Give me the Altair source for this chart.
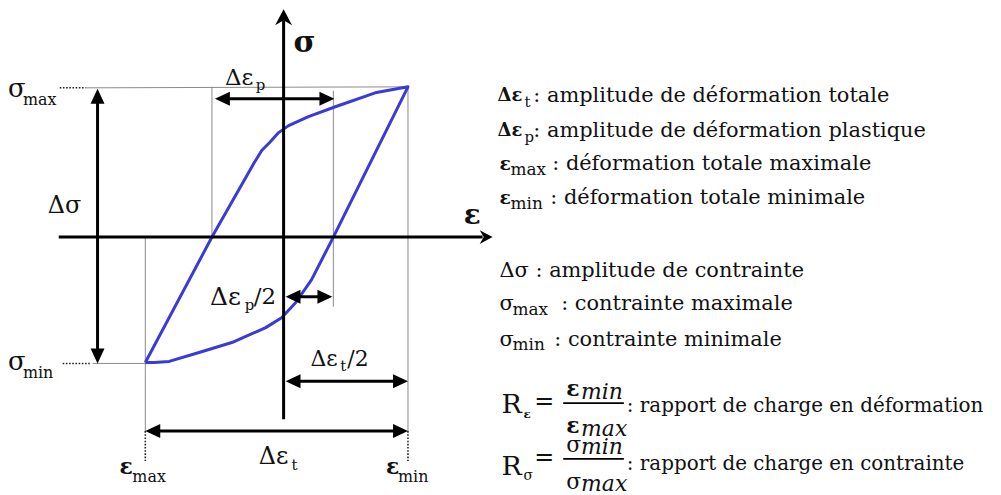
import altair as alt
import pandas as pd

# ---------------- data (strain ε / stress σ, arbitrary units, origin at the axes crossing)
loading_eps = [-139, -72, -30, -22, -14, -5, 5, 25, 52, 92, 125]
loading_sig = [-126, 0, 74, 87, 95, 105, 112, 121, 131, 145, 151]
unloading_eps = [125, 50, 28, 12, -2, -18, -52, -85, -115, -130, -139]
unloading_sig = [151, 0, -43, -66, -81, -91, -106, -116, -125, -126, -126]

EPS_MAX_POS = -139   # ε_max (left end of the loop)
EPS_MIN_POS = 125    # ε_min (right end of the loop)
SIG_MAX = 151
SIG_MIN = -127
DEP_LEFT = -72
DEP_RIGHT = 50

FONT = "DejaVu Serif"
BLUE = "#3a3ad6"
GREY = "#8a8a8a"

W, H = 990, 486
XS = alt.Scale(domain=[-277, -277 + W], nice=False, zero=False)
YS = alt.Scale(domain=[229 - H, 229], nice=False, zero=False)


def rule_layer(rows, color, width, dash=None):
    df = pd.DataFrame(rows, columns=["x", "y", "x2", "y2"])
    kw = dict(color=color, strokeWidth=width)
    if dash:
        kw["strokeDash"] = dash
    return alt.Chart(df).mark_rule(**kw).encode(
        x=alt.X("x:Q", scale=XS, axis=None),
        y=alt.Y("y:Q", scale=YS, axis=None),
        x2="x2:Q",
        y2="y2:Q",
    )


# ---------------- loop
loop_rows = []
i = 0
for e, s in zip(loading_eps, loading_sig):
    loop_rows.append({"eps": e, "sig": s, "o": i}); i += 1
for e, s in zip(unloading_eps[1:], unloading_sig[1:]):
    loop_rows.append({"eps": e, "sig": s, "o": i}); i += 1
loop = alt.Chart(pd.DataFrame(loop_rows)).mark_line(
    color=BLUE, strokeWidth=3, strokeJoin="round"
).encode(
    x=alt.X("eps:Q", scale=XS, axis=None),
    y=alt.Y("sig:Q", scale=YS, axis=None),
    order="o:Q",
)

# ---------------- thin construction lines
guides = rule_layer([
    (-199, SIG_MAX - 1, EPS_MIN_POS, SIG_MAX),
    (-192, SIG_MIN, EPS_MAX_POS, SIG_MIN),
    (EPS_MAX_POS, 0, EPS_MAX_POS, -195),
    (DEP_LEFT, SIG_MAX, DEP_LEFT, 0),
    (DEP_RIGHT, 147, DEP_RIGHT, -70),
    (EPS_MIN_POS, SIG_MAX, EPS_MIN_POS, -195),
], GREY, 1)

dots = rule_layer([
    (-225, SIG_MAX - 1, -199, SIG_MAX - 1),
    (-222, SIG_MIN, -194, SIG_MIN),
    (EPS_MAX_POS, -195, EPS_MAX_POS, -225),
    (EPS_MIN_POS, -195, EPS_MIN_POS, -225),
], "#222222", 1.6, [1.6, 1.6])

# ---------------- axes
axes_lines = rule_layer([
    (-226, 0, 200, 0),
    (0, -183, 0, 218),
], "black", 3)

AXIS_HEAD = "M0,0L0.85,1.6L0,1.1L-0.85,1.6Z"
axis_heads = alt.Chart(pd.DataFrame([
    {"x": 210, "y": 0, "a": 90, "s": 260},
    {"x": 0, "y": 229, "a": 0, "s": 400},
])).mark_point(shape=AXIS_HEAD, filled=True, color="black", opacity=1).encode(
    x=alt.X("x:Q", scale=XS, axis=None),
    y=alt.Y("y:Q", scale=YS, axis=None),
    angle=alt.Angle("a:Q", scale=None),
    size=alt.Size("s:Q", scale=None),
)

# ---------------- dimension arrows (double headed)
dims = [
    (-187, 149, -187, SIG_MIN),        # Δσ
    (-69, 139, 51, 139),               # Δεp
    (2, -60, 49, -60),                 # Δεp/2
    (2, -145, EPS_MIN_POS, -145),      # Δεt/2
    (EPS_MAX_POS, -195, EPS_MIN_POS, -195),  # Δεt
]
SHORT = 8
dim_lines = []
heads = []
for x1, y1, x2, y2 in dims:
    if x1 == x2:  # vertical
        top, bot = max(y1, y2), min(y1, y2)
        dim_lines.append((x1, top - SHORT, x1, bot + SHORT))
        heads.append({"x": x1, "y": top, "a": 0})
        heads.append({"x": x1, "y": bot, "a": 180})
    else:
        lft, rgt = min(x1, x2), max(x1, x2)
        dim_lines.append((lft + SHORT, y1, rgt - SHORT, y1))
        heads.append({"x": lft, "y": y1, "a": 270})
        heads.append({"x": rgt, "y": y1, "a": 90})
dim_rules = rule_layer(dim_lines, "black", 3)
HEAD = "M0,0L0.7,1.5L-0.7,1.5Z"
dim_heads = alt.Chart(pd.DataFrame(heads)).mark_point(
    shape=HEAD, filled=True, color="black", size=400, opacity=1
).encode(
    x=alt.X("x:Q", scale=XS, axis=None),
    y=alt.Y("y:Q", scale=YS, axis=None),
    angle=alt.Angle("a:Q", scale=None),
)

# fraction bars
bars = rule_layer([
    (281, -167, 342, -167),
    (281, -223, 342, -223),
], "black", 1.8)

# ---------------- texts (text, x, y, size, style)
labels = [
    # diagram
    ("σ", 10, 195, 30, "b"),
    ("ε", 181, 21, 28, "b"),
    ("σ", -277, 149, 26, "r"), ("max", -262, 138, 16, "r"),
    ("Δσ", -237, 31, 24, "r"),
    ("σ", -277, -126, 26, "r"), ("min", -262, -137, 16, "r"),
    ("Δε", -59, 160, 23, "r"), ("p", -28, 153, 15, "r"),
    ("Δε", -74, -60, 25, "r"), ("p", -39, -68, 15, "r"), ("/2", -30, -60, 23, "r"),
    ("Δε", 27, -123, 22, "r"), ("t", 57, -130, 15, "r"), ("/2", 64, -123, 22, "r"),
    ("Δε", -25, -221, 24, "r"), ("t", 8, -229, 15, "r"),
    ("ε", -165, -231, 22, "b"), ("max", -152, -241, 16, "r"),
    ("ε", 103, -231, 22, "b"), ("min", 115, -241, 16, "r"),
    # legend block
    ("Δε", 215, 142, 18, "b"), ("t", 242, 136, 15, "r"),
    (": amplitude de déformation totale", 251, 142, 21, "r"),
    ("Δε", 215, 107, 18, "b"), ("p", 242, 101, 15, "r"),
    (": amplitude de déformation plastique", 251, 107, 21, "r"),
    ("ε", 217, 73, 19, "b"), ("max", 228, 67, 17, "r"),
    (": déformation totale maximale", 270, 73, 21, "r"),
    ("ε", 217, 39, 19, "b"), ("min", 228, 33, 17, "r"),
    (": déformation totale minimale", 268, 39, 21, "r"),
    ("Δσ : amplitude de contrainte", 217, -34, 21, "r"),
    ("σ", 217, -67, 21, "r"), ("max", 230, -73, 17, "r"),
    (":  contrainte maximale", 279, -67, 21, "r"),
    ("σ", 217, -103, 21, "r"), ("min", 230, -109, 17, "r"),
    (":  contrainte minimale", 272, -103, 21, "r"),
    ("R", 219, -169, 27, "r"), ("ε", 241, -178, 12, "b"), ("=", 252, -166, 24, "r"),
    ("ε", 284, -153, 22, "b"), ("min", 299, -156, 22, "i"),
    ("ε", 284, -190, 22, "b"), ("max", 299, -193, 22, "i"),
    (": rapport de charge en déformation", 345, -170, 20, "r"),
    ("R", 219, -231, 27, "r"), ("σ", 241, -240, 14, "r"), ("=", 252, -222, 24, "r"),
    ("σ", 284, -209, 22, "r"), ("min", 299, -211, 22, "i"),
    ("σ", 284, -246, 22, "r"), ("max", 299, -248, 22, "i"),
    (": rapport de charge en contrainte", 345, -228, 20, "r"),
]
lab_df = pd.DataFrame(labels, columns=["t", "x", "y", "s", "st"])


def text_layer(style, **kw):
    return alt.Chart(lab_df[lab_df.st == style]).mark_text(
        align="left", baseline="middle", font=FONT, color="#111111", **kw
    ).encode(
        x=alt.X("x:Q", scale=XS, axis=None),
        y=alt.Y("y:Q", scale=YS, axis=None),
        text="t:N",
        size=alt.Size("s:Q", scale=None),
    )


texts = [
    text_layer("r"),
    text_layer("b", fontWeight="bold"),
    text_layer("i", fontStyle="italic"),
]

chart = alt.layer(
    guides, dots, loop, axes_lines, axis_heads, dim_rules, dim_heads, bars, *texts
).properties(
    width=W, height=H, padding=0, background="white",
    autosize=alt.AutoSizeParams(type="none"),
).configure_view(strokeWidth=0)

chart.save("out.html", embed_options={"renderer": "svg", "actions": False})
